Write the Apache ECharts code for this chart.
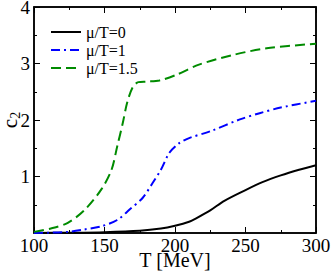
<!DOCTYPE html>
<html>
<head>
<meta charset="utf-8">
<script src="https://cdn.jsdelivr.net/npm/echarts@6/dist/echarts.min.js"></script>
<style>
html,body{margin:0;padding:0;background:#fff;}
#c{width:333px;height:273px;}
</style>
</head>
<body>
<div id="c"></div>
<script>
var seriesNames = ['μ/T=0', 'μ/T=1', 'μ/T=1.5'];
var xTicks = [100, 150, 200, 250, 300];
var yTicks = [1, 2, 3, 4];

var tBlack = [100, 125, 150, 175, 190, 200, 210, 215, 225, 235, 250, 262, 275, 288, 300];
var vBlack = [0.0, 0.005, 0.015, 0.04, 0.08, 0.13, 0.2, 0.26, 0.4, 0.57, 0.76, 0.9, 1.02, 1.12, 1.2];

var tBlue = [100, 110, 124, 135, 148, 159, 168, 177, 184, 190, 196, 203, 210, 225, 246, 260, 275, 300];
var vBlue = [0.0, 0.005, 0.02, 0.06, 0.12, 0.23, 0.42, 0.62, 0.88, 1.12, 1.42, 1.59, 1.68, 1.8, 2.01, 2.12, 2.22, 2.34];

var tGreen = [100, 112, 124, 136, 148, 155, 159, 163, 166, 170, 174, 180, 189, 201, 217, 241, 265, 300];
var vGreen = [0.02, 0.08, 0.18, 0.41, 0.78, 1.12, 1.53, 1.95, 2.3, 2.58, 2.67, 2.68, 2.7, 2.8, 2.98, 3.15, 3.27, 3.35];

function pairs(t, v) { return t.map(function (x, i) { return [x, v[i]]; }); }

var FONT = 'Liberation Serif';
function LINE() { return { show: true, onZero: false, lineStyle: { color: '#000', width: 1.5 } }; }
function TICK() { return { show: true, inside: true, length: 6, lineStyle: { color: '#000', width: 1 } }; }
function MINOR() { return { show: true, splitNumber: 2, length: 3, lineStyle: { color: '#000', width: 1 } }; }

var chart = echarts.init(document.getElementById('c'), null, { renderer: 'svg' });
chart.setOption({
  animation: false,
  backgroundColor: '#fff',
  grid: { left: 34, right: 17, top: 7, bottom: 40, show: true, borderColor: '#000', borderWidth: 1.5, outerBoundsMode: 'none' },
  legend: {
    orient: 'vertical', left: 45, top: 19, itemWidth: 30, itemHeight: 2, itemGap: 2,
    itemStyle: { opacity: 0 }, data: seriesNames,
    textStyle: { fontFamily: FONT, fontSize: 16, color: '#000' }
  },
  xAxis: [
    {
      type: 'value', min: xTicks[0], max: xTicks[xTicks.length - 1], interval: 50, position: 'bottom',
      name: 'T [MeV]', nameLocation: 'middle', nameGap: 17, nameMoveOverlap: false,
      nameTextStyle: { fontFamily: FONT, fontSize: 20, color: '#000' },
      axisLine: LINE(), axisTick: TICK(), minorTick: MINOR(), splitLine: { show: false },
      axisLabel: { fontFamily: FONT, fontSize: 19, color: '#000', margin: 3 }
    },
    {
      type: 'value', min: xTicks[0], max: xTicks[xTicks.length - 1], interval: 50, position: 'top',
      axisLine: LINE(), axisTick: TICK(), minorTick: MINOR(), splitLine: { show: false },
      axisLabel: { show: false }
    }
  ],
  yAxis: [
    {
      type: 'value', min: 0, max: yTicks[yTicks.length - 1], interval: 1, position: 'left',
      name: 'c{s|2}', nameLocation: 'middle', nameGap: 24, nameRotate: 90, nameMoveOverlap: false,
      nameTextStyle: {
        fontFamily: FONT, fontSize: 21, color: '#000', lineHeight: 24, verticalAlign: 'middle',
        rich: { s: { fontFamily: FONT, fontSize: 14, lineHeight: 12, verticalAlign: 'bottom' } }
      },
      axisLine: LINE(), axisTick: TICK(), minorTick: MINOR(), splitLine: { show: false },
      axisLabel: {
        fontFamily: FONT, fontSize: 19, color: '#000', margin: 4,
        formatter: function (v) { return yTicks.indexOf(v) >= 0 ? String(v) : ''; }
      }
    },
    {
      type: 'value', min: 0, max: yTicks[yTicks.length - 1], interval: 1, position: 'right',
      axisLine: LINE(), axisTick: TICK(), minorTick: MINOR(), splitLine: { show: false },
      axisLabel: { show: false }
    }
  ],
  series: [
    { name: seriesNames[0], type: 'line', data: pairs(tBlack, vBlack), smooth: 0.3, showSymbol: false, symbol: 'none',
      lineStyle: { color: '#000', width: 2, type: 'solid' }, itemStyle: { color: '#000' } },
    { name: seriesNames[1], type: 'line', data: pairs(tBlue, vBlue), smooth: 0.3, showSymbol: false, symbol: 'none',
      lineStyle: { color: '#0000ff', width: 2, type: [9, 4, 2, 4] }, itemStyle: { color: '#0000ff' } },
    { name: seriesNames[2], type: 'line', data: pairs(tGreen, vGreen), smooth: 0.3, showSymbol: false, symbol: 'none',
      lineStyle: { color: '#008b00', width: 2, type: [10, 5] }, itemStyle: { color: '#008b00' } }
  ]
});
</script>
</body>
</html>
